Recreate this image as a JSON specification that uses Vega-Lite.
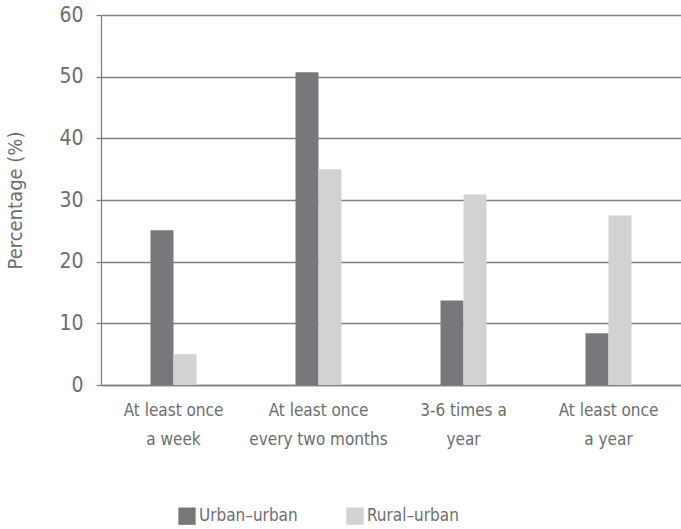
{
  "$schema": "https://vega.github.io/schema/vega-lite/v6.json",
  "autosize": "none",
  "width": 580,
  "height": 370,
  "padding": {"left": 101, "top": 15, "right": 0, "bottom": 144},
  "background": "white",
  "config": {
    "font": "DejaVu Sans Condensed",
    "view": {"stroke": null}
  },
  "data": {
    "values": [
      {"freq": "At least once a week", "group": "Urban–urban", "value": 25.1},
      {"freq": "At least once a week", "group": "Rural–urban", "value": 5.0},
      {"freq": "At least once every two months", "group": "Urban–urban", "value": 50.7},
      {"freq": "At least once every two months", "group": "Rural–urban", "value": 35.0},
      {"freq": "3-6 times a year", "group": "Urban–urban", "value": 13.7},
      {"freq": "3-6 times a year", "group": "Rural–urban", "value": 30.9},
      {"freq": "At least once a year", "group": "Urban–urban", "value": 8.4},
      {"freq": "At least once a year", "group": "Rural–urban", "value": 27.5}
    ]
  },
  "mark": {"type": "bar"},
  "encoding": {
    "x": {
      "field": "freq",
      "type": "nominal",
      "sort": ["At least once a week", "At least once every two months", "3-6 times a year", "At least once a year"],
      "scale": {"paddingInner": 0.683, "paddingOuter": 0.3415},
      "axis": {
        "title": null,
        "labelExpr": "datum.value == 'At least once a week' ? ['At least once', 'a week'] : datum.value == 'At least once every two months' ? ['At least once', 'every two months'] : datum.value == '3-6 times a year' ? ['3-6 times a', 'year'] : ['At least once', 'a year']",
        "labelAngle": 0,
        "labelFontSize": 17,
        "labelColor": "#6d6e71",
        "labelLineHeight": 29,
        "labelPadding": 17,
        "labelOverlap": false,
        "ticks": false,
        "domain": true,
        "domainColor": "#808184",
        "domainWidth": 1.5
      }
    },
    "xOffset": {
      "field": "group",
      "type": "nominal",
      "sort": ["Urban–urban", "Rural–urban"],
      "scale": {"paddingInner": 0, "paddingOuter": 0}
    },
    "y": {
      "field": "value",
      "type": "quantitative",
      "scale": {"domain": [0, 60], "nice": false},
      "axis": {
        "title": "Percentage (%)",
        "titleFontSize": 20,
        "titleFontWeight": "normal",
        "titleColor": "#6d6e71",
        "titlePadding": 33,
        "values": [0, 10, 20, 30, 40, 50, 60],
        "labelFontSize": 21,
        "labelColor": "#6d6e71",
        "labelPadding": 13,
        "labelOverlap": false,
        "tickSize": 5,
        "tickColor": "#808184",
        "tickWidth": 1.3,
        "grid": true,
        "gridColor": "#808184",
        "gridWidth": 1.3,
        "domain": true,
        "domainColor": "#808184",
        "domainWidth": 1.3
      }
    },
    "color": {
      "field": "group",
      "type": "nominal",
      "sort": ["Urban–urban", "Rural–urban"],
      "scale": {"domain": ["Urban–urban", "Rural–urban"], "range": ["#77787b", "#d1d2d4"]},
      "legend": {
        "title": null,
        "orient": "none",
        "legendX": 77,
        "legendY": 492,
        "direction": "horizontal",
        "symbolType": "square",
        "symbolSize": 300,
        "symbolStrokeWidth": 0,
        "labelFontSize": 17,
        "labelColor": "#6d6e71",
        "labelOffset": 3,
        "columnPadding": 48
      }
    }
  }
}
